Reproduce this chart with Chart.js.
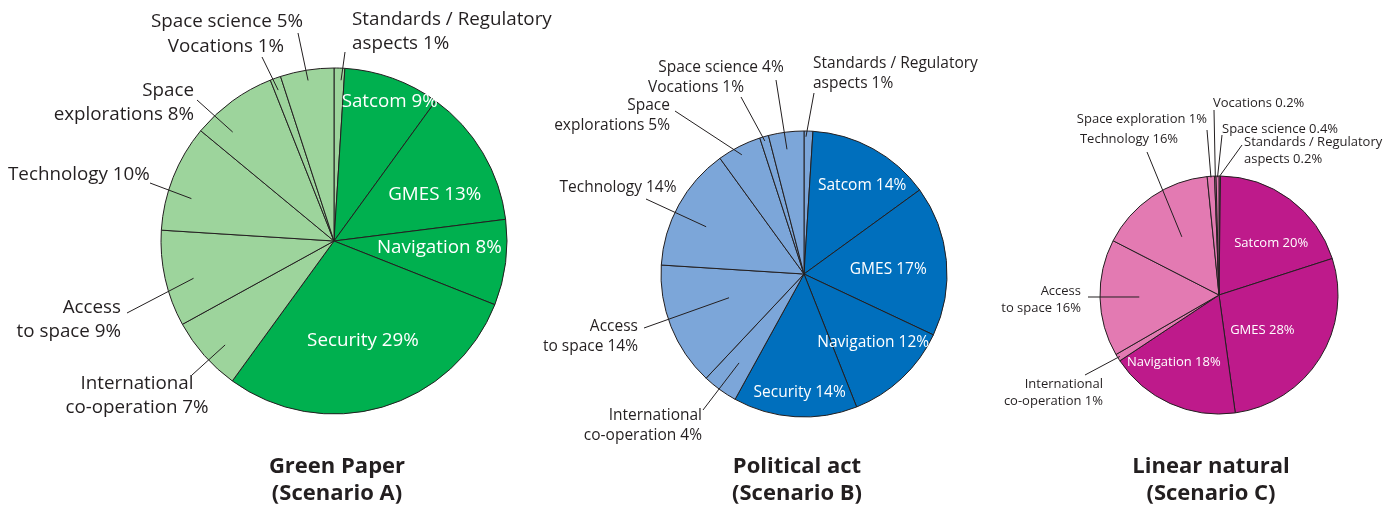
<!DOCTYPE html>
<html>
<head>
<meta charset="utf-8">
<script src="https://cdn.jsdelivr.net/npm/chart.js@4.4.0/dist/chart.umd.min.js"></script>
<style>
  body { margin: 0; width: 1396px; height: 505px; background: #fff; position: relative; overflow: hidden; font-family: "Open Sans", sans-serif; }
  canvas { position: absolute; top: 0; }
  .ttl { position: absolute; top: 451px; width: 300px; text-align: center; font-weight: bold; font-size: 22px; line-height: 27px; color: #231f20; }
</style>
</head>
<body>
<canvas id="pieA" width="560" height="505" style="left:0px"></canvas>
<canvas id="pieB" width="470" height="505" style="left:530px"></canvas>
<canvas id="pieC" width="406" height="505" style="left:990px"></canvas>
<div class="ttl" style="left:187px">Green Paper<br>(Scenario A)</div>
<div class="ttl" style="left:647px">Political act<br>(Scenario B)</div>
<div class="ttl" style="left:1061px">Linear natural<br>(Scenario C)</div>
<script>
// categories, clockwise from 12 o'clock
const namesAB = ["Standards / Regulatory\naspects", "Satcom", "GMES", "Navigation", "Security",
  "International\nco-operation", "Access\nto space", "Technology", "Space\nexplorations", "Vocations", "Space science"];
const namesC = ["Standards / Regulatory\naspects", "Satcom", "GMES", "Navigation",
  "International\nco-operation", "Access\nto space", "Technology", "Space exploration", "Vocations", "Space science"];

// shares in %
const greenPaper = [1, 9, 13, 8, 29, 7, 9, 10, 8, 1, 5];
const politicalAct = [1, 14, 17, 12, 14, 4, 14, 14, 5, 1, 4];
const linearNatural = [0.2, 20, 28, 18, 1, 16, 16, 1, 0.2, 0.4];

// core slices get the dark shade
const coreAB = [0, 1, 1, 1, 1, 0, 0, 0, 0, 0, 0];
const coreC = [0, 1, 1, 1, 0, 0, 0, 0, 0, 0];

const INK = "#231f20";

// label placement: p = position along slice, f = fraction of radius,
// to = outer end of leader, t = text anchor (both relative to pie centre)
const layoutA = [
  { p: 0.7, f: 0.93, to: [11, -189], t: [18, -221], al: "left" },
  { inside: true, p: 0.56, f: 0.87 },
  { inside: true, p: 0.63, f: 0.64 },
  { inside: true, p: 0.38, f: 0.61 },
  { inside: true, p: 0.5, f: 0.6 },
  { p: 0.41, f: 0.87, to: [-142, 134], t: [-197, 143], al: "center" },
  { p: 0.43, f: 0.84, to: [-207, 72], t: [-213, 67], al: "right" },
  { p: 0.36, f: 0.86, to: [-184, -58], t: [-326, -66], al: "left" },
  { p: 0.26, f: 0.86, to: [-137, -141], t: [-140, -150], al: "right" },
  { p: 0.36, f: 0.93, to: [-72, -184], t: [-108, -194], al: "center" },
  { p: 0.49, f: 0.94, to: [-36, -208], t: [-107, -219], al: "center" },
];
const layoutB = [
  { p: 0.23, f: 0.96, to: [10, -181], t: [9, -210], al: "left" },
  { inside: true, p: 0.59, f: 0.74 },
  { inside: true, p: 0.54, f: 0.59 },
  { inside: true, p: 0.45, f: 0.68 },
  { inside: true, p: 0.47, f: 0.83 },
  { p: 0.51, f: 0.77, to: [-101, 136], t: [-102, 142], al: "right" },
  { p: 0.58, f: 0.55, to: [-160, 54], t: [-166, 53], al: "right" },
  { p: 0.44, f: 0.76, to: [-158, -75], t: [-186, -86], al: "center" },
  { p: 0.47, f: 0.94, to: [-129, -163], t: [-134, -168], al: "right" },
  { p: 0.44, f: 0.97, to: [-63, -177], t: [-108, -186], al: "center" },
  { p: 0.46, f: 0.88, to: [-28, -194], t: [-83, -206], al: "center" },
];
const layoutC = [
  { p: 0.5, f: 1.0, to: [23, -150], t: [25, -153], al: "left" },
  { inside: true, p: 0.62, f: 0.62 },
  { inside: true, p: 0.57, f: 0.47 },
  { inside: true, p: 0.65, f: 0.68 },
  { p: 0.5, f: 0.98, to: [-134, 80], t: [-116, 89], al: "right" },
  { p: 0.5, f: 0.67, to: [-131, 2], t: [-138, -4], al: "right" },
  { p: 0.53, f: 0.58, to: [-72, -143], t: [-90, -156], al: "center" },
  { p: 0.5, f: 0.99, to: [-12, -165], t: [-12, -176], al: "right" },
  { p: 0.5, f: 0.99, to: [-5, -185], t: [-6, -192], al: "left" },
  { p: 0.5, f: 0.99, to: [3, -160], t: [3, -166], al: "left" },
];

const pieLabels = {
  id: "pieLabels",
  afterDatasetsDraw(chart, args, opts) {
    const ctx = chart.ctx;
    const arcs = chart.getDatasetMeta(0).data;
    const names = chart.data.labels;
    const values = chart.data.datasets[0].data;
    ctx.save();
    ctx.font = opts.size + 'px "Open Sans"';
    ctx.textBaseline = "middle";
    arcs.forEach((arc, i) => {
      const l = opts.layout[i];
      const a = arc.startAngle + (arc.endAngle - arc.startAngle) * l.p;
      const px = arc.x + Math.cos(a) * arc.outerRadius * l.f;
      const py = arc.y + Math.sin(a) * arc.outerRadius * l.f;
      const lines = (names[i] + " " + values[i] + "%").split("\n");
      if (l.inside) {
        ctx.fillStyle = "#fff";
        ctx.textAlign = "center";
        lines.forEach((s, k) => ctx.fillText(s, px, py + k * opts.lh));
        return;
      }
      ctx.strokeStyle = INK;
      ctx.lineWidth = 1;
      ctx.beginPath();
      ctx.moveTo(arc.x + l.to[0], arc.y + l.to[1]);
      ctx.lineTo(px, py);
      ctx.stroke();
      ctx.fillStyle = INK;
      ctx.textAlign = l.al;
      lines.forEach((s, k) => ctx.fillText(s, arc.x + l.t[0], arc.y + l.t[1] + k * opts.lh));
    });
    ctx.restore();
  },
};

function makePie(id, left, cx, cy, r, names, values, core, dark, light, layout, size, lh) {
  const canvas = document.getElementById(id);
  const w = canvas.width, h = canvas.height;
  const x = cx - left;
  return new Chart(canvas, {
    type: "pie",
    data: {
      labels: names,
      datasets: [{
        data: values,
        backgroundColor: core.map((c) => (c ? dark : light)),
        borderColor: INK,
        borderWidth: 1,
        radius: r,
      }],
    },
    options: {
      responsive: false,
      animation: false,
      events: [],
      layout: { padding: { left: x - r, right: w - x - r, top: cy - r, bottom: h - cy - r } },
      plugins: {
        legend: { display: false },
        tooltip: { enabled: false },
        pieLabels: { layout: layout, size: size, lh: lh },
      },
    },
    plugins: [pieLabels],
  });
}

makePie("pieA", 0, 334, 241, 173, namesAB, greenPaper, coreAB, "#00b04f", "#9dd49c", layoutA, 18.8, 24);
makePie("pieB", 530, 804, 274, 143, namesAB, politicalAct, coreAB, "#006fbd", "#7ca6d9", layoutB, 15.5, 19.5);
makePie("pieC", 990, 1219, 295, 119, namesC, linearNatural, coreC, "#be1a8b", "#e37ab2", layoutC, 13, 17);
</script>
</body>
</html>
